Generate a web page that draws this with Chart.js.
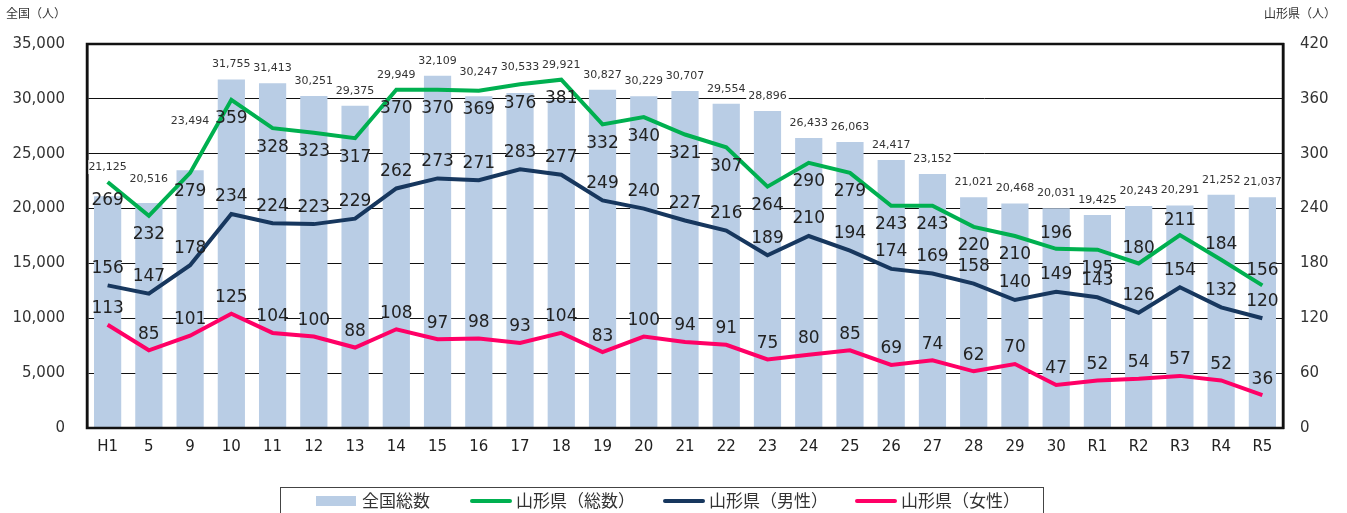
<!DOCTYPE html>
<html>
<head>
<meta charset="utf-8">
<script src="https://cdn.jsdelivr.net/npm/chart.js@4.4.1/dist/chart.umd.min.js"></script>
<style>
  html, body { margin: 0; padding: 0; background: #fff; }
  #wrap { width: 1347px; height: 513px; }
</style>
</head>
<body>
<div id="wrap"><canvas id="chart" width="1347" height="513"></canvas></div>
<script>
// data
const years = ['H1', '5', '9', '10', '11', '12', '13', '14', '15', '16', '17', '18', '19', '20',
  '21', '22', '23', '24', '25', '26', '27', '28', '29', '30', 'R1', 'R2', 'R3', 'R4', 'R5'];
const nationalTotal = [21125, 20516, 23494, 31755, 31413, 30251, 29375, 29949, 32109, 30247,
  30533, 29921, 30827, 30229, 30707, 29554, 28896, 26433, 26063, 24417, 23152, 21021, 20468,
  20031, 19425, 20243, 20291, 21252, 21037];
const yamagataTotal = [269, 232, 279, 359, 328, 323, 317, 370, 370, 369, 376, 381, 332, 340,
  321, 307, 264, 290, 279, 243, 243, 220, 210, 196, 195, 180, 211, 184, 156];
const yamagataMale = [156, 147, 178, 234, 224, 223, 229, 262, 273, 271, 283, 277, 249, 240,
  227, 216, 189, 210, 194, 174, 169, 158, 140, 149, 143, 126, 154, 132, 120];
const yamagataFemale = [113, 85, 101, 125, 104, 100, 88, 108, 97, 98, 93, 104, 83, 100, 94,
  91, 75, 80, 85, 69, 74, 62, 70, 47, 52, 54, 57, 52, 36];
const leftTicks = [0, 5000, 10000, 15000, 20000, 25000, 30000, 35000];
const rightTicks = [0, 60, 120, 180, 240, 300, 360, 420];

const BAR = '#b9cde5';
const GREEN = '#00b050';
const NAVY = '#17375e';
const PINK = '#ff0066';
const NUM_FONT = '"DejaVu Sans", Verdana, sans-serif';
const JP_FONT = '"Noto Sans CJK JP", "Noto Sans", sans-serif';

// total labels that sit above the line instead of below
const totalAbove = new Set(['30', 'R2', 'R3', 'R4', 'R5']);

const fmt = v => v.toLocaleString('en-US');

const labelsPlugin = {
  id: 'valueLabels',
  afterDatasetDraw(chart, args) {
    if (args.index !== 0) return;
    const ctx = chart.ctx;
    const green = chart.getDatasetMeta(1).data;
    ctx.save();
    ctx.font = '11px ' + NUM_FONT;
    ctx.textAlign = 'center';
    ctx.textBaseline = 'middle';
    args.meta.data.forEach((el, i) => {
      const txt = fmt(nationalTotal[i]);
      // keep the label clear of the bar top and the green line under it
      let top = el.y;
      if (green[i]) {
        top = Math.min(top, green[i].y);
        if (green[i - 1]) top = Math.min(top, (green[i].y + green[i - 1].y) / 2);
        if (green[i + 1]) top = Math.min(top, (green[i].y + green[i + 1].y) / 2);
      }
      const y = top - 15;
      const w = ctx.measureText(txt).width;
      ctx.fillStyle = '#fff';
      ctx.fillRect(el.x - w / 2 - 2, y - 7, w + 4, 14);
      ctx.fillStyle = '#333';
      ctx.fillText(txt, el.x, y);
    });
    ctx.restore();
  },
  afterDatasetsDraw(chart) {
    const ctx = chart.ctx;
    ctx.save();
    ctx.font = '17px ' + NUM_FONT;
    ctx.textAlign = 'center';
    ctx.textBaseline = 'middle';
    ctx.fillStyle = '#222';
    const put = (dsIndex, values, offsetFn) => {
      chart.getDatasetMeta(dsIndex).data.forEach((pt, i) => {
        ctx.fillText(String(values[i]), pt.x, pt.y + offsetFn(i));
      });
    };
    put(1, yamagataTotal, i => totalAbove.has(years[i]) ? -15 : 19);
    put(2, yamagataMale, () => -17);
    put(3, yamagataFemale, () => -16);

    // frame round the plot
    const a = chart.chartArea;
    ctx.strokeStyle = '#111';
    ctx.lineWidth = 2.5;
    ctx.strokeRect(a.left, a.top, a.right - a.left, a.bottom - a.top);
    ctx.restore();
  },
  afterDraw(chart) {
    const ctx = chart.ctx;
    ctx.save();
    // axis titles
    ctx.font = '12px ' + JP_FONT;
    ctx.fillStyle = '#333';
    ctx.textBaseline = 'middle';
    ctx.textAlign = 'left';
    ctx.fillText('全国（人）', 6, 13);
    ctx.textAlign = 'right';
    ctx.fillText('山形県（人）', 1336, 13);

    // legend box
    ctx.strokeStyle = '#444';
    ctx.lineWidth = 1;
    ctx.strokeRect(280.5, 487.5, 763, 40);
    ctx.font = '17px ' + JP_FONT;
    ctx.textAlign = 'left';
    const ly = 501;
    const items = [
      { x: 316, text: '全国総数', color: BAR, bar: true },
      { x: 470, text: '山形県（総数）', color: GREEN },
      { x: 663, text: '山形県（男性）', color: NAVY },
      { x: 855, text: '山形県（女性）', color: PINK }
    ];
    items.forEach(it => {
      if (it.bar) {
        ctx.fillStyle = it.color;
        ctx.fillRect(it.x, ly - 5, 40, 10);
      } else {
        ctx.strokeStyle = it.color;
        ctx.lineWidth = 4;
        ctx.lineCap = 'round';
        ctx.beginPath();
        ctx.moveTo(it.x + 2, ly);
        ctx.lineTo(it.x + 40, ly);
        ctx.stroke();
      }
      ctx.fillStyle = '#333';
      ctx.fillText(it.text, it.x + 46, ly);
    });
    ctx.restore();
  }
};

const lineSet = (label, data, color, order) => ({
  type: 'line',
  label,
  data,
  yAxisID: 'y1',
  borderColor: color,
  backgroundColor: color,
  borderWidth: 4,
  pointRadius: 0,
  tension: 0,
  order
});

new Chart(document.getElementById('chart'), {
  type: 'bar',
  data: {
    labels: years,
    datasets: [
      {
        label: '全国総数',
        data: nationalTotal,
        backgroundColor: BAR,
        yAxisID: 'y',
        barPercentage: 0.66,
        categoryPercentage: 1,
        order: 10
      },
      lineSet('山形県（総数）', yamagataTotal, GREEN, 1),
      lineSet('山形県（男性）', yamagataMale, NAVY, 2),
      lineSet('山形県（女性）', yamagataFemale, PINK, 3)
    ]
  },
  options: {
    responsive: false,
    animation: false,
    layout: { padding: { top: 44, left: 0, right: 0, bottom: 0 } },
    plugins: {
      legend: { display: false },
      tooltip: { enabled: false }
    },
    scales: {
      x: {
        grid: { display: false, drawTicks: false },
        border: { display: true, color: '#111', width: 2 },
        ticks: { color: '#222', font: { family: NUM_FONT, size: 15 }, padding: 10 },
        afterFit: s => { s.height = 85; }
      },
      y: {
        position: 'left',
        min: leftTicks[0],
        max: leftTicks[leftTicks.length - 1],
        afterBuildTicks: s => { s.ticks = leftTicks.map(v => ({ value: v })); },
        grid: { color: '#111', lineWidth: 1, drawTicks: false },
        border: { display: true, color: '#111', width: 2.5 },
        ticks: {
          color: '#333',
          font: { family: NUM_FONT, size: 15 },
          padding: 22,
          callback: v => fmt(v)
        },
        afterFit: s => { s.width = 87; }
      },
      y1: {
        position: 'right',
        min: rightTicks[0],
        max: rightTicks[rightTicks.length - 1],
        afterBuildTicks: s => { s.ticks = rightTicks.map(v => ({ value: v })); },
        grid: { drawOnChartArea: false, drawTicks: false },
        border: { display: true, color: '#111', width: 2.5 },
        ticks: {
          color: '#333',
          font: { family: NUM_FONT, size: 15 },
          padding: 17
        },
        afterFit: s => { s.width = 64; }
      }
    }
  },
  plugins: [labelsPlugin]
});
</script>
</body>
</html>
